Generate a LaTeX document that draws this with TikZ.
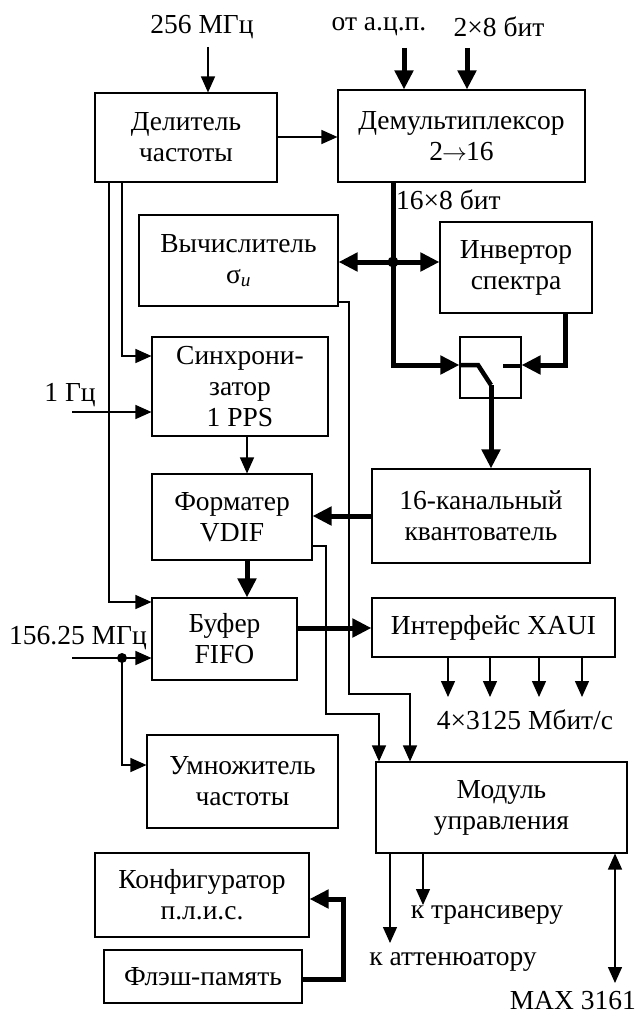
\documentclass[tikz,border=0pt]{standalone}
\usepackage{fontspec}
\setmainfont{Liberation Serif}
\usetikzlibrary{arrows.meta}
\newcommand{\blkfont}{\fontsize{27.5}{31}\selectfont}
\begin{document}
\begin{tikzpicture}[x=1pt,y=-1pt,
  blk/.style={draw, line width=1.1pt, inner sep=0pt, align=center, font=\blkfont},
  lbl/.style={inner sep=0pt, font=\blkfont},
  thinar/.style={line width=1.4pt, -{Triangle[length=16pt,width=14pt]}},
  thickar/.style={line width=5pt, -{Triangle[length=19pt,width=18pt]}},
  dblthick/.style={line width=5pt, {Triangle[length=19pt,width=18pt]}-{Triangle[length=19pt,width=18pt]}},
  dblthin/.style={line width=1.4pt, {Triangle[length=16pt,width=14pt]}-{Triangle[length=16pt,width=14pt]}},
  swln/.style={line width=4.5pt},
]
\fill[white] (0,0) rectangle (637,1014);
\useasboundingbox (0,0) rectangle (637,1014);

% blocks
\node[blk, minimum width=182pt, minimum height=89pt] (div) at (186,137.5) {Делитель\\частоты};
\node[blk, minimum width=247pt, minimum height=92pt] (dmx) at (461.5,136) {Демультиплексор\\2\kern-1pt$\rightarrow$\kern-1pt16};
\node[blk, minimum width=199pt, minimum height=91pt] (calc) at (238.5,260.5) {Вычислитель\\σ\textsubscript{\itshape u}};
\node[blk, minimum width=152pt, minimum height=91pt] (inv) at (516,267.5) {Инвертор\\спектра};
\node[blk, minimum width=176pt, minimum height=99pt] (sync) at (240,386.5) {Синхрони-\\затор\\1 PPS};
\node[draw, line width=1.1pt, minimum width=61pt, minimum height=61pt, inner sep=0pt] (sw) at (490.5,367.5) {};
\node[blk, minimum width=160pt, minimum height=86pt] (fmt) at (232,517) {Форматер\\VDIF};
\node[blk, minimum width=218pt, minimum height=94pt] (quant) at (481,516) {16-канальный\\квантователь};
\node[blk, minimum width=145pt, minimum height=82pt] (buf) at (224.5,639) {Буфер\\FIFO};
\node[blk, minimum width=243pt, minimum height=59pt] (xaui) at (493.5,627.5) {Интерфейс XAUI};
\node[blk, minimum width=191pt, minimum height=93pt] (mul) at (242.5,781.5) {Умножитель\\частоты};
\node[blk, minimum width=251pt, minimum height=91pt] (mod) at (501.5,807.5) {Модуль\\управления};
\node[blk, minimum width=214pt, minimum height=84pt] (cfg) at (202,895) {Конфигуратор\\п.л.и.с.};
\node[blk, minimum width=198pt, minimum height=53pt] (fl) at (203,976.5) {Флэш-память};

% labels
\node[lbl] (t256) at (202,27) {256 МГц};
\node[lbl] (tadc) at (379,27) {от а.ц.п.};
\node[lbl] (t28) at (499,27) {2×8 бит};
\node[lbl, anchor=west] (t168) at (396,200) {16×8 бит};
\node[lbl] (t1hz) at (70,395) {1 Гц};
\node[lbl] (t156) at (78,638) {156.25 МГц};
\node[lbl] (t4x) at (525,720) {4×3125 Мбит/с};
\node[lbl] (ttrx) at (487,915) {к трансиверу};
\node[lbl] (tatt) at (453,962) {к аттенюатору};
\node[lbl, anchor=east] (tmax) at (636,1001) {MAX 3161};

% coordinates
\coordinate (in256) at (208,47);
\coordinate (inadc1) at (404,48);
\coordinate (inadc2) at (467,48);
\coordinate (jn) at (393,262);
\coordinate (swin) at (393,365);
\coordinate (invc) at (565,365);
\coordinate (swk) at (478,365);
\coordinate (swp) at (491,385);
\coordinate (sws) at (503,366);
\coordinate (bufin) at (109,602);
\coordinate (syncin) at (122,356);
\coordinate (in1hz) at (72,412);
\coordinate (cx) at (247,0);
\coordinate (qy) at (0,516);
\coordinate (by) at (0,628);
\coordinate (in156) at (72,658);
\coordinate (dot156) at (122,658);
\coordinate (mulin) at (122,765);
\coordinate (c1) at (349,302);
\coordinate (c2) at (349,694);
\coordinate (c3) at (410,694);
\coordinate (f1) at (326,546);
\coordinate (f2) at (326,714);
\coordinate (f3) at (379,714);
\coordinate (att) at (390,943);
\coordinate (trx) at (423,905);
\coordinate (maxc) at (615,983);
\coordinate (fa) at (343,979);
\coordinate (fb) at (343,899);
\coordinate (dy) at (0,137);

% connectors
\draw[thinar] (in256) -- (in256 |- div.north);
\draw[thickar] (inadc1) -- (inadc1 |- dmx.north);
\draw[thickar] (inadc2) -- (inadc2 |- dmx.north);
\draw[thinar] (div.east |- dy) -- (dmx.west |- dy);

\draw[thickar] (dmx.south -| jn) -- (swin) -- (sw.west |- swin);
\draw[dblthick] (calc.east |- jn) -- (inv.west |- jn);
\fill (jn) circle (5.5pt);
\draw[thickar] (inv.south -| invc) -- (invc) -- (sw.east |- invc);
\draw[swln] (sw.west |- swk) -- (swk) -- (swp);
\draw[thickar] (swp) -- (swp |- quant.north);
\draw[swln] (sws) -- (sws -| sw.east);

\draw[thinar] (div.south -| bufin) -- (bufin) -- (buf.west |- bufin);
\draw[thinar] (div.south -| syncin) -- (syncin) -- (sync.west |- syncin);
\draw[thinar] (in1hz) -- (sync.west |- in1hz);
\draw[thinar] (sync.south -| cx) -- (fmt.north -| cx);
\draw[thickar] (quant.west |- qy) -- (fmt.east |- qy);
\draw[thickar] (fmt.south -| cx) -- (buf.north -| cx);
\draw[thickar] (buf.east |- by) -- (xaui.west |- by);

\draw[thinar] (in156) -- (buf.west |- in156);
\fill (dot156) circle (5pt);
\draw[thinar] (dot156) -- (mulin) -- (mul.west |- mulin);

\draw[thinar] (calc.east |- c1) -- (c1) -- (c2) -- (c3) -- (c3 |- mod.north);
\draw[thinar] (fmt.east |- f1) -- (f1) -- (f2) -- (f3) -- (f3 |- mod.north);

\foreach \x/\n in {448/a,490/b,539/c,582/d}{
  \coordinate (xo\n) at (\x,697);
  \draw[thinar] (xaui.south -| xo\n) -- (xo\n);
}
\draw[thinar] (mod.south -| att) -- (att);
\draw[thinar] (mod.south -| trx) -- (trx);
\draw[dblthin] (mod.south -| maxc) -- (maxc);
\draw[thickar] (fl.east |- fa) -- (fa) -- (fb) -- (cfg.east |- fb);
\end{tikzpicture}
\end{document}
